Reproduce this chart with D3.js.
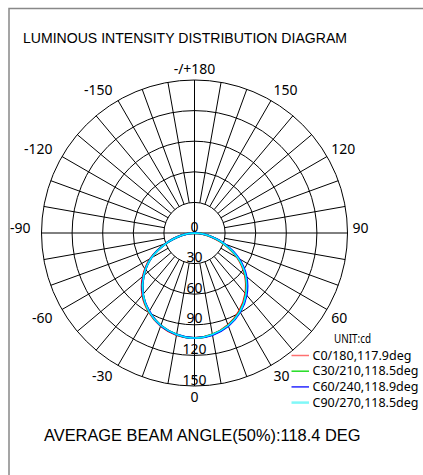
<!DOCTYPE html>
<html>
<head>
<meta charset="utf-8">
<script src="https://cdn.jsdelivr.net/npm/d3@7"></script>
<style>
  body { margin: 0; background: #fff; }
  svg { display: block; }
</style>
</head>
<body>
<script>
// polar angles in degrees, 0 = straight down, negative = left half (C180 side)
var angles = [-90, -80, -70, -60, -50, -40, -30, -20, -10, 0, 10, 20, 30, 40, 50, 60, 70, 80, 90];
var c0   = [0, 13, 30, 50, 66, 79.5, 89.5, 97, 101.5, 103, 101, 96, 88, 77.5, 64.5, 48.5, 29.5, 12.5, 0];
var c30  = [0, 12.5, 29.5, 49, 65, 78.5, 89, 96.5, 101, 103, 101, 96.5, 89, 78.5, 65.5, 49.5, 30.5, 13, 0];
var c60  = [0, 12.5, 29.5, 49, 65, 78.5, 88.5, 96.5, 101, 103, 101.5, 97, 89.5, 79.5, 66.5, 50.5, 31.5, 13.5, 0];
var c90  = [0, 12.5, 29.5, 49, 65, 78.5, 89, 96.5, 101, 103, 101, 96.5, 89, 78.5, 65.5, 49.5, 30.5, 13, 0];

var seriesNames = ["C0/180,117.9deg", "C30/210,118.5deg", "C60/240,118.9deg", "C90/270,118.5deg"];
var seriesColors = ["#ff0000", "#00e000", "#0000ff", "#00f0ff"];
var legendColors = ["#ff7070", "#22dd22", "#2828ff", "#80f8f8"];

var ringValues = [30, 60, 90, 120, 150];
var ringLabels = [0, 30, 60, 90, 120, 150];
var angleTicks = [-150, -120, -90, -60, -30, 0, 30, 60, 90, 120, 150, 180];
var angleTickLabels = ["-150", "-120", "-90", "-60", "-30", "0", "30", "60", "90", "120", "150", "-/+180"];

var w = 423;
var h = 475;
var cx = 194.5;
var cy = 233;

var svg = d3.select("body")
    .append("svg")
    .attr("width", w)
    .attr("height", h);

svg.append("rect")
    .attr("width", w)
    .attr("height", h)
    .attr("fill", "#fff");

// frame (right and bottom edges fall outside the picture)
svg.append("rect")
    .attr("x", 9)
    .attr("y", 8.5)
    .attr("width", 500)
    .attr("height", 500)
    .attr("fill", "none")
    .attr("stroke", "#888")
    .attr("stroke-width", 1.5);

var r = d3.scaleLinear().domain([0, 150]).range([0, 153]);

function rad(d) { return d * Math.PI / 180; }

var g = svg.append("g").attr("transform", "translate(" + cx + "," + cy + ")");

// rings
g.selectAll("circle.ring")
    .data(ringValues)
    .enter()
    .append("circle")
    .attr("class", "ring")
    .attr("r", function(d) { return r(d); })
    .attr("fill", "none")
    .attr("stroke", "#000")
    .attr("stroke-width", 1);

// spokes every 10 deg, main axes go through the centre
var spokes = d3.range(0, 360, 10);
g.selectAll("line.spoke")
    .data(spokes)
    .enter()
    .append("line")
    .attr("class", "spoke")
    .attr("x1", function(d) { var r0 = d % 90 == 0 ? 0 : r(30); return r0 * Math.sin(rad(d)); })
    .attr("y1", function(d) { var r0 = d % 90 == 0 ? 0 : r(30); return r0 * Math.cos(rad(d)); })
    .attr("x2", function(d) { return r(150) * Math.sin(rad(d)); })
    .attr("y2", function(d) { return r(150) * Math.cos(rad(d)); })
    .attr("stroke", "#000")
    .attr("stroke-width", 1);

// ring value labels
g.selectAll("text.ringlabel")
    .data(ringLabels)
    .enter()
    .append("text")
    .attr("class", "ringlabel")
    .text(function(d) { return d; })
    .attr("x", 0)
    .attr("y", function(d) { return r(d) - 1.5; })
    .attr("font-family", "Noto Sans, sans-serif")
    .attr("font-size", "14px")
    .attr("fill", "#000")
    .attr("text-anchor", "middle");

// angle labels
g.selectAll("text.anglelabel")
    .data(angleTicks)
    .enter()
    .append("text")
    .attr("class", "anglelabel")
    .text(function(d, i) { return angleTickLabels[i]; })
    .attr("x", function(d) {
        var s = Math.sin(rad(d));
        var L = s < -0.01 ? r(150) + 11 : r(150) + 5;
        return L * s;
    })
    .attr("y", function(d) {
        var c = Math.cos(rad(d));
        var L = r(150) + 6;
        if (c > 0.01) return L * c + 10;
        return L * c;
    })
    .attr("text-anchor", function(d) {
        var s = Math.sin(rad(d));
        return s > 0.01 ? "start" : (s < -0.01 ? "end" : "middle");
    })
    .attr("font-family", "Noto Sans, sans-serif")
    .attr("font-size", "14px")
    .attr("fill", "#000");

// intensity curves
var line = d3.lineRadial()
    .angle(function(d) { return Math.PI - rad(d[0]); })
    .radius(function(d) { return r(d[1]); })
    .curve(d3.curveCardinal);

var allSeries = [c0, c30, c60, c90];
g.selectAll("path.curve")
    .data(allSeries)
    .enter()
    .append("path")
    .attr("class", "curve")
    .attr("d", function(d) {
        return line(angles.map(function(a, i) { return [a, d[i]]; }));
    })
    .attr("fill", "none")
    .attr("stroke", function(d, i) { return seriesColors[i]; })
    .attr("stroke-width", function(d, i) { return i == 3 ? 1.5 : 2; });

// title
svg.append("text")
    .text("LUMINOUS INTENSITY DISTRIBUTION DIAGRAM")
    .attr("x", 23)
    .attr("y", 42.5)
    .attr("font-family", "Liberation Sans, Arial, sans-serif")
    .attr("font-size", "14px")
    .attr("textLength", 324)
    .attr("lengthAdjust", "spacingAndGlyphs")
    .attr("fill", "#000");

// legend
svg.append("text")
    .text("UNIT:cd")
    .attr("x", 334)
    .attr("y", 342.5)
    .attr("font-family", "Noto Sans, sans-serif")
    .attr("font-size", "12.5px")
    .attr("textLength", 37)
    .attr("lengthAdjust", "spacingAndGlyphs")
    .attr("fill", "#000");

var legend = svg.selectAll("g.legend")
    .data(seriesNames)
    .enter()
    .append("g")
    .attr("class", "legend")
    .attr("transform", function(d, i) { return "translate(291.5," + (359.5 + i * 15.7) + ")"; });

legend.append("line")
    .attr("x1", 0)
    .attr("x2", 17.5)
    .attr("y1", -4)
    .attr("y2", -4)
    .attr("stroke", function(d, i) { return legendColors[i]; })
    .attr("stroke-width", function(d, i) { return i == 3 ? 2.5 : 1.5; });

legend.append("text")
    .text(function(d) { return d; })
    .attr("x", 21)
    .attr("y", 0)
    .attr("font-family", "Noto Sans, sans-serif")
    .attr("font-size", "12.5px")
    .attr("fill", "#000");

// beam angle
svg.append("text")
    .text("AVERAGE BEAM ANGLE(50%):118.4 DEG")
    .attr("x", 44)
    .attr("y", 441)
    .attr("font-family", "Liberation Sans, Arial, sans-serif")
    .attr("font-size", "16.4px")
    .attr("fill", "#000");
</script>
</body>
</html>
